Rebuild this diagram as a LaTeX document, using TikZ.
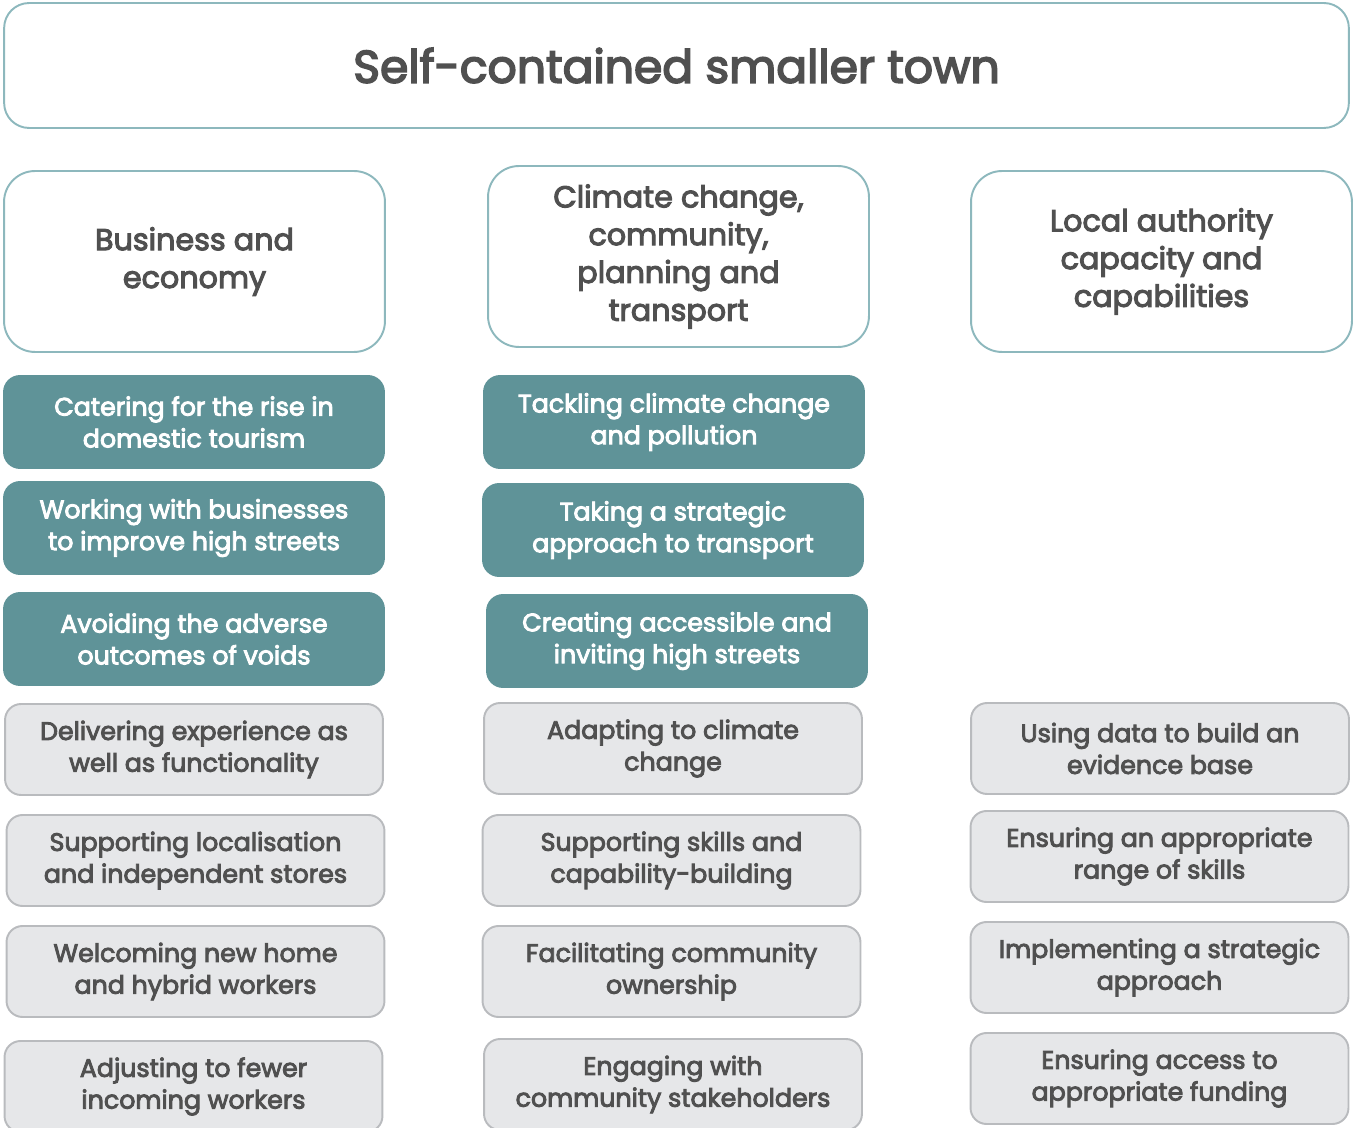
\documentclass[tikz,border=0pt]{standalone}
\usepackage{fontspec}
\setmainfont{Poppins}[UprightFeatures={FakeBold=3.5}]
\definecolor{tealfill}{HTML}{5F9398}
\definecolor{tealline}{HTML}{8DB8BD}
\definecolor{greyfill}{HTML}{E6E7E9}
\definecolor{greyline}{HTML}{B9BBBE}
\definecolor{txt}{HTML}{505050}
\begin{document}
\begin{tikzpicture}[x=0.02cm,y=-0.02cm,
  base/.style={rounded corners=0.32cm, line width=1.1pt, align=center, inner sep=0pt, text=txt},
  titlebox/.style={base, draw=tealline, fill=white, rounded corners=0.5cm, minimum width=26.9cm, minimum height=2.5cm, font=\fontsize{26}{34}\selectfont},
  headbox/.style={base, draw=tealline, fill=white, rounded corners=0.62cm, minimum width=7.62cm, minimum height=3.62cm, font=\fontsize{17.2}{21.5}\selectfont},
  tealbox/.style={base, draw=tealfill, fill=tealfill, text=white, minimum width=7.6cm, minimum height=1.84cm, font=\fontsize{14.4}{18.1}\selectfont},
  greybox/.style={base, draw=greyline, fill=greyfill, minimum width=7.56cm, minimum height=1.82cm, font=\fontsize{14.4}{18.1}\selectfont}]
\useasboundingbox (0,0) rectangle (1353,1128);
\clip (0,0) rectangle (1353,1128);
\node[titlebox] (title) at (676.5,65.5) {Self-contained smaller town};
\node[headbox] (h1) at (194.5,261.5) {Business and\\economy};
\node[headbox] (h2) at (678.5,256.5) {Climate change,\\community,\\planning and\\transport};
\node[headbox] (h3) at (1161.5,261.5) {Local authority\\capacity and\\capabilities};
\node[tealbox] (t1) at (194,422) {Catering for the rise in\\domestic tourism};
\node[tealbox] (t2) at (194,528) {Working with businesses\\to improve high streets};
\node[tealbox] (t3) at (194,639) {Avoiding the adverse\\outcomes of voids};
\node[tealbox] (t4) at (674,422) {Tackling climate change\\and pollution};
\node[tealbox] (t5) at (673,530) {Taking a strategic\\approach to transport};
\node[tealbox] (t6) at (677,641) {Creating accessible and\\inviting high streets};
\node[greybox] (g1) at (194,749.5) {Delivering experience as\\well as functionality};
\node[greybox] (g2) at (195.5,860.5) {Supporting localisation\\and independent stores};
\node[greybox] (g3) at (195.5,971.5) {Welcoming new home\\and hybrid workers};
\node[greybox] (g4) at (193.5,1086.5) {Adjusting to fewer\\incoming workers};
\node[greybox] (g5) at (673,748.5) {Adapting to climate\\change};
\node[greybox] (g6) at (671.5,860.5) {Supporting skills and\\capability-building};
\node[greybox] (g7) at (671.5,971.5) {Facilitating community\\ownership};
\node[greybox] (g8) at (673,1084.5) {Engaging with\\community stakeholders};
\node[greybox] (g9) at (1160,748.5) {Using data to build an\\evidence base};
\node[greybox] (g10) at (1159.5,856.5) {Ensuring an appropriate\\range of skills};
\node[greybox] (g11) at (1159.5,967.5) {Implementing a strategic\\approach};
\node[greybox] (g12) at (1159.5,1078.5) {Ensuring access to\\appropriate funding};
\end{tikzpicture}
\end{document}
